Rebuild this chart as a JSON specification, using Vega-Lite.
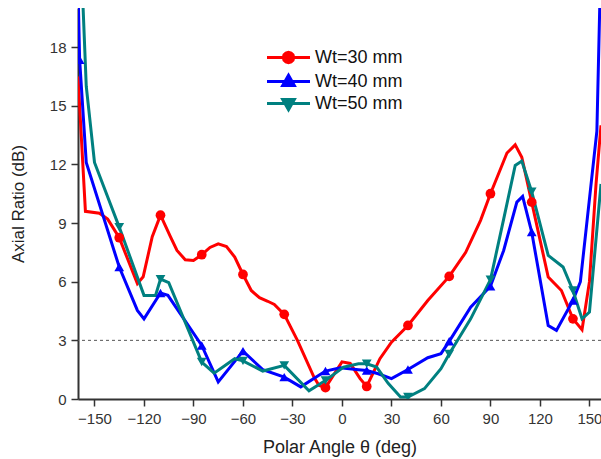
{
  "$schema": "https://vega.github.io/schema/vega-lite/v6.json",
  "autosize": "none",
  "width": 523,
  "height": 391,
  "padding": {"left": 78, "top": 8, "right": 0, "bottom": 60},
  "background": "white",
  "config": {"view": {"stroke": null}, "font": "Liberation Sans"},
  "datasets": {
    "curves": [
      {"wt": "Wt=30 mm", "angle": -160, "ar": 16.5},
      {"wt": "Wt=30 mm", "angle": -155.5, "ar": 9.6},
      {"wt": "Wt=30 mm", "angle": -147, "ar": 9.5},
      {"wt": "Wt=30 mm", "angle": -142, "ar": 9.2},
      {"wt": "Wt=30 mm", "angle": -135, "ar": 8.25},
      {"wt": "Wt=30 mm", "angle": -124, "ar": 5.9},
      {"wt": "Wt=30 mm", "angle": -120.5, "ar": 6.25},
      {"wt": "Wt=30 mm", "angle": -115, "ar": 8.3},
      {"wt": "Wt=30 mm", "angle": -110, "ar": 9.4},
      {"wt": "Wt=30 mm", "angle": -104, "ar": 8.3},
      {"wt": "Wt=30 mm", "angle": -100, "ar": 7.6},
      {"wt": "Wt=30 mm", "angle": -95, "ar": 7.12},
      {"wt": "Wt=30 mm", "angle": -90, "ar": 7.09},
      {"wt": "Wt=30 mm", "angle": -85, "ar": 7.38},
      {"wt": "Wt=30 mm", "angle": -80, "ar": 7.75},
      {"wt": "Wt=30 mm", "angle": -75, "ar": 7.94},
      {"wt": "Wt=30 mm", "angle": -70, "ar": 7.8},
      {"wt": "Wt=30 mm", "angle": -65, "ar": 7.26},
      {"wt": "Wt=30 mm", "angle": -60, "ar": 6.37},
      {"wt": "Wt=30 mm", "angle": -55, "ar": 5.55},
      {"wt": "Wt=30 mm", "angle": -50, "ar": 5.18},
      {"wt": "Wt=30 mm", "angle": -45, "ar": 5.0},
      {"wt": "Wt=30 mm", "angle": -41, "ar": 4.84},
      {"wt": "Wt=30 mm", "angle": -35, "ar": 4.33},
      {"wt": "Wt=30 mm", "angle": -27, "ar": 3.0},
      {"wt": "Wt=30 mm", "angle": -17, "ar": 1.12},
      {"wt": "Wt=30 mm", "angle": -14, "ar": 0.7},
      {"wt": "Wt=30 mm", "angle": -10, "ar": 0.58},
      {"wt": "Wt=30 mm", "angle": 0, "ar": 1.9},
      {"wt": "Wt=30 mm", "angle": 5, "ar": 1.82},
      {"wt": "Wt=30 mm", "angle": 11, "ar": 1.04},
      {"wt": "Wt=30 mm", "angle": 15, "ar": 0.64},
      {"wt": "Wt=30 mm", "angle": 23, "ar": 2.06},
      {"wt": "Wt=30 mm", "angle": 30, "ar": 2.91},
      {"wt": "Wt=30 mm", "angle": 40, "ar": 3.76},
      {"wt": "Wt=30 mm", "angle": 52, "ar": 5.04},
      {"wt": "Wt=30 mm", "angle": 65, "ar": 6.27},
      {"wt": "Wt=30 mm", "angle": 75, "ar": 7.5},
      {"wt": "Wt=30 mm", "angle": 84, "ar": 9.14},
      {"wt": "Wt=30 mm", "angle": 90, "ar": 10.5},
      {"wt": "Wt=30 mm", "angle": 100, "ar": 12.58},
      {"wt": "Wt=30 mm", "angle": 105, "ar": 13.0},
      {"wt": "Wt=30 mm", "angle": 109, "ar": 12.37},
      {"wt": "Wt=30 mm", "angle": 115, "ar": 10.07},
      {"wt": "Wt=30 mm", "angle": 125, "ar": 6.24},
      {"wt": "Wt=30 mm", "angle": 133, "ar": 5.55},
      {"wt": "Wt=30 mm", "angle": 140, "ar": 4.1},
      {"wt": "Wt=30 mm", "angle": 145.5, "ar": 3.54},
      {"wt": "Wt=30 mm", "angle": 150, "ar": 6.0},
      {"wt": "Wt=30 mm", "angle": 154, "ar": 11},
      {"wt": "Wt=30 mm", "angle": 157, "ar": 14},

      {"wt": "Wt=40 mm", "angle": -160, "ar": 21},
      {"wt": "Wt=40 mm", "angle": -159, "ar": 17.35},
      {"wt": "Wt=40 mm", "angle": -155, "ar": 12.1},
      {"wt": "Wt=40 mm", "angle": -135, "ar": 6.75},
      {"wt": "Wt=40 mm", "angle": -124, "ar": 4.53},
      {"wt": "Wt=40 mm", "angle": -120, "ar": 4.1},
      {"wt": "Wt=40 mm", "angle": -110, "ar": 5.42},
      {"wt": "Wt=40 mm", "angle": -105.5, "ar": 5.3},
      {"wt": "Wt=40 mm", "angle": -85, "ar": 2.74},
      {"wt": "Wt=40 mm", "angle": -75, "ar": 0.87},
      {"wt": "Wt=40 mm", "angle": -60, "ar": 2.45},
      {"wt": "Wt=40 mm", "angle": -48, "ar": 1.5},
      {"wt": "Wt=40 mm", "angle": -35, "ar": 1.12},
      {"wt": "Wt=40 mm", "angle": -25, "ar": 0.62},
      {"wt": "Wt=40 mm", "angle": -10, "ar": 1.43},
      {"wt": "Wt=40 mm", "angle": -1, "ar": 1.6},
      {"wt": "Wt=40 mm", "angle": 10, "ar": 1.5},
      {"wt": "Wt=40 mm", "angle": 15, "ar": 1.46},
      {"wt": "Wt=40 mm", "angle": 22, "ar": 1.29},
      {"wt": "Wt=40 mm", "angle": 30, "ar": 1.04},
      {"wt": "Wt=40 mm", "angle": 40, "ar": 1.51},
      {"wt": "Wt=40 mm", "angle": 52, "ar": 2.11},
      {"wt": "Wt=40 mm", "angle": 60, "ar": 2.32},
      {"wt": "Wt=40 mm", "angle": 65, "ar": 2.95},
      {"wt": "Wt=40 mm", "angle": 78, "ar": 4.7},
      {"wt": "Wt=40 mm", "angle": 90, "ar": 5.77},
      {"wt": "Wt=40 mm", "angle": 98, "ar": 7.6},
      {"wt": "Wt=40 mm", "angle": 106, "ar": 10.07},
      {"wt": "Wt=40 mm", "angle": 109.5, "ar": 10.36},
      {"wt": "Wt=40 mm", "angle": 115, "ar": 8.54},
      {"wt": "Wt=40 mm", "angle": 125, "ar": 3.76},
      {"wt": "Wt=40 mm", "angle": 130, "ar": 3.51},
      {"wt": "Wt=40 mm", "angle": 140, "ar": 5.04},
      {"wt": "Wt=40 mm", "angle": 144.5, "ar": 6.0},
      {"wt": "Wt=40 mm", "angle": 154.5, "ar": 13.7},
      {"wt": "Wt=40 mm", "angle": 156.5, "ar": 21},

      {"wt": "Wt=50 mm", "angle": -160, "ar": 26.5},
      {"wt": "Wt=50 mm", "angle": -155, "ar": 16},
      {"wt": "Wt=50 mm", "angle": -150, "ar": 12.1},
      {"wt": "Wt=50 mm", "angle": -135, "ar": 8.79},
      {"wt": "Wt=50 mm", "angle": -120, "ar": 5.3},
      {"wt": "Wt=50 mm", "angle": -113, "ar": 5.3},
      {"wt": "Wt=50 mm", "angle": -110, "ar": 6.13},
      {"wt": "Wt=50 mm", "angle": -105, "ar": 5.95},
      {"wt": "Wt=50 mm", "angle": -85, "ar": 1.89},
      {"wt": "Wt=50 mm", "angle": -77.5, "ar": 1.32},
      {"wt": "Wt=50 mm", "angle": -65, "ar": 2.06},
      {"wt": "Wt=50 mm", "angle": -60, "ar": 1.95},
      {"wt": "Wt=50 mm", "angle": -48, "ar": 1.43},
      {"wt": "Wt=50 mm", "angle": -35, "ar": 1.72},
      {"wt": "Wt=50 mm", "angle": -20, "ar": 0.42},
      {"wt": "Wt=50 mm", "angle": -10, "ar": 0.95},
      {"wt": "Wt=50 mm", "angle": 1, "ar": 1.63},
      {"wt": "Wt=50 mm", "angle": 10, "ar": 1.8},
      {"wt": "Wt=50 mm", "angle": 15, "ar": 1.8},
      {"wt": "Wt=50 mm", "angle": 21, "ar": 1.63},
      {"wt": "Wt=50 mm", "angle": 28, "ar": 0.8},
      {"wt": "Wt=50 mm", "angle": 35.5, "ar": 0.1},
      {"wt": "Wt=50 mm", "angle": 40, "ar": 0.1},
      {"wt": "Wt=50 mm", "angle": 50, "ar": 0.53},
      {"wt": "Wt=50 mm", "angle": 60, "ar": 1.55},
      {"wt": "Wt=50 mm", "angle": 65, "ar": 2.3},
      {"wt": "Wt=50 mm", "angle": 78, "ar": 4.1},
      {"wt": "Wt=50 mm", "angle": 90, "ar": 6.1},
      {"wt": "Wt=50 mm", "angle": 98, "ar": 9.2},
      {"wt": "Wt=50 mm", "angle": 105, "ar": 11.95},
      {"wt": "Wt=50 mm", "angle": 109, "ar": 12.17},
      {"wt": "Wt=50 mm", "angle": 115, "ar": 10.6},
      {"wt": "Wt=50 mm", "angle": 125, "ar": 7.35},
      {"wt": "Wt=50 mm", "angle": 134, "ar": 6.75},
      {"wt": "Wt=50 mm", "angle": 140, "ar": 5.55},
      {"wt": "Wt=50 mm", "angle": 145.5, "ar": 4.1},
      {"wt": "Wt=50 mm", "angle": 150, "ar": 4.45},
      {"wt": "Wt=50 mm", "angle": 157, "ar": 11}
    ]
  },
  "layer": [
    {
      "data": {"values": [{"ref": 3}]},
      "mark": {"type": "rule", "strokeDash": [3, 3], "color": "#555555", "strokeWidth": 1},
      "encoding": {"y": {"field": "ref", "type": "quantitative", "scale": {"domain": [0, 20], "nice": false, "zero": false}}}
    },
    {
      "data": {"name": "curves"},
      "mark": {"type": "line", "strokeWidth": 3, "clip": true},
      "encoding": {
        "x": {
          "field": "angle", "type": "quantitative",
          "scale": {"domain": [-160, 157], "nice": false, "zero": false},
          "axis": {
            "title": "Polar Angle θ (deg)",
            "values": [-150, -135, -120, -105, -90, -75, -60, -45, -30, -15, 0, 15, 30, 45, 60, 75, 90, 105, 120, 135, 150],
            "labelExpr": "datum.value % 30 === 0 ? datum.label : ''",
            "format": "d",
            "grid": false,
            "tickSize": {"condition": {"test": "datum.value % 30 === 0", "value": 7}, "value": 4},
            "tickColor": "#333333", "tickWidth": 1.5,
            "domainColor": "#333333", "domainWidth": 2,
            "labelFont": "Liberation Sans", "labelFontSize": 15, "labelColor": "#333333", "labelPadding": 5,
            "titleFont": "Liberation Sans", "titleFontSize": 18, "titleFontWeight": "normal", "titleColor": "#222222", "titlePadding": 12
          }
        },
        "y": {
          "field": "ar", "type": "quantitative",
          "scale": {"domain": [0, 20], "nice": false, "zero": false},
          "axis": {
            "title": "Axial Ratio (dB)",
            "values": [0, 1.5, 3, 4.5, 6, 7.5, 9, 10.5, 12, 13.5, 15, 16.5, 18, 19.5],
            "labelExpr": "datum.value % 3 === 0 ? datum.label : ''",
            "grid": false,
            "tickSize": {"condition": {"test": "datum.value % 3 === 0", "value": 7}, "value": 4},
            "tickColor": "#333333", "tickWidth": 1.5,
            "domainColor": "#333333", "domainWidth": 2,
            "labelFont": "Liberation Sans", "labelFontSize": 15, "labelColor": "#333333", "labelPadding": 5,
            "titleFont": "Liberation Sans", "titleFontSize": 17, "titleFontWeight": "normal", "titleColor": "#222222", "titlePadding": 22
          }
        },
        "color": {
          "field": "wt", "type": "nominal",
          "scale": {"domain": ["Wt=30 mm", "Wt=40 mm", "Wt=50 mm"], "range": ["#ff0000", "#0000ff", "#008080"]},
          "legend": {
            "orient": "none", "legendX": 199, "legendY": 38, "title": null, "padding": 0,
            "labelFont": "Liberation Sans", "labelFontSize": 18, "labelColor": "#111111",
            "symbolSize": 400, "symbolStrokeWidth": 3, "rowPadding": 0, "labelOffset": 15,
            "encode": {
              "symbols": {
                "update": {
                  "shape": {"signal": "datum.value === 'Wt=30 mm' ? 'M-2.15,0L2.15,0M0.52,0L0.45,0.26L0.26,0.45L0,0.52L-0.26,0.45L-0.45,0.26L-0.52,0L-0.45,-0.26L-0.26,-0.45L0,-0.52L0.26,-0.45L0.45,-0.26Z' : datum.value === 'Wt=40 mm' ? 'M-2.15,0L2.15,0M0,-0.62L0.58,0.4L-0.58,0.4Z' : 'M-2.15,0L2.15,0M0,0.62L0.58,-0.4L-0.58,-0.4Z'"},
                  "fill": {"signal": "scale('color', datum.value)"},
                  "stroke": {"signal": "scale('color', datum.value)"},
                  "strokeWidth": {"value": 3},
                  "opacity": {"value": 1},
                  "fillOpacity": {"value": 1},
                  "strokeOpacity": {"value": 1}
                }
              }
            }
          }
        }
      }
    },
    {
      "data": {"name": "curves"},
      "transform": [
        {"filter": "datum.wt === 'Wt=30 mm'"},
        {"filter": "indexof([-135, -110, -85, -60, -35, -10, 15, 40, 65, 90, 115, 140], datum.angle) >= 0"}
      ],
      "mark": {"type": "point", "shape": "circle", "filled": true, "size": 95, "opacity": 1, "clip": true},
      "encoding": {
        "x": {"field": "angle", "type": "quantitative"},
        "y": {"field": "ar", "type": "quantitative"},
        "color": {"field": "wt", "type": "nominal"}
      }
    },
    {
      "data": {"name": "curves"},
      "transform": [
        {"filter": "datum.wt === 'Wt=40 mm'"},
        {"filter": "indexof([-159, -135, -110, -85, -60, -35, -10, 15, 40, 65, 90, 115, 140], datum.angle) >= 0"}
      ],
      "mark": {"type": "point", "shape": "triangle-up", "filled": true, "size": 95, "opacity": 1, "clip": true},
      "encoding": {
        "x": {"field": "angle", "type": "quantitative"},
        "y": {"field": "ar", "type": "quantitative"},
        "color": {"field": "wt", "type": "nominal"}
      }
    },
    {
      "data": {"name": "curves"},
      "transform": [
        {"filter": "datum.wt === 'Wt=50 mm'"},
        {"filter": "indexof([-135, -110, -85, -60, -35, -10, 15, 40, 65, 90, 115, 140], datum.angle) >= 0"}
      ],
      "mark": {"type": "point", "shape": "triangle-down", "filled": true, "size": 95, "opacity": 1, "clip": true},
      "encoding": {
        "x": {"field": "angle", "type": "quantitative"},
        "y": {"field": "ar", "type": "quantitative"},
        "color": {"field": "wt", "type": "nominal"}
      }
    }
  ]
}
